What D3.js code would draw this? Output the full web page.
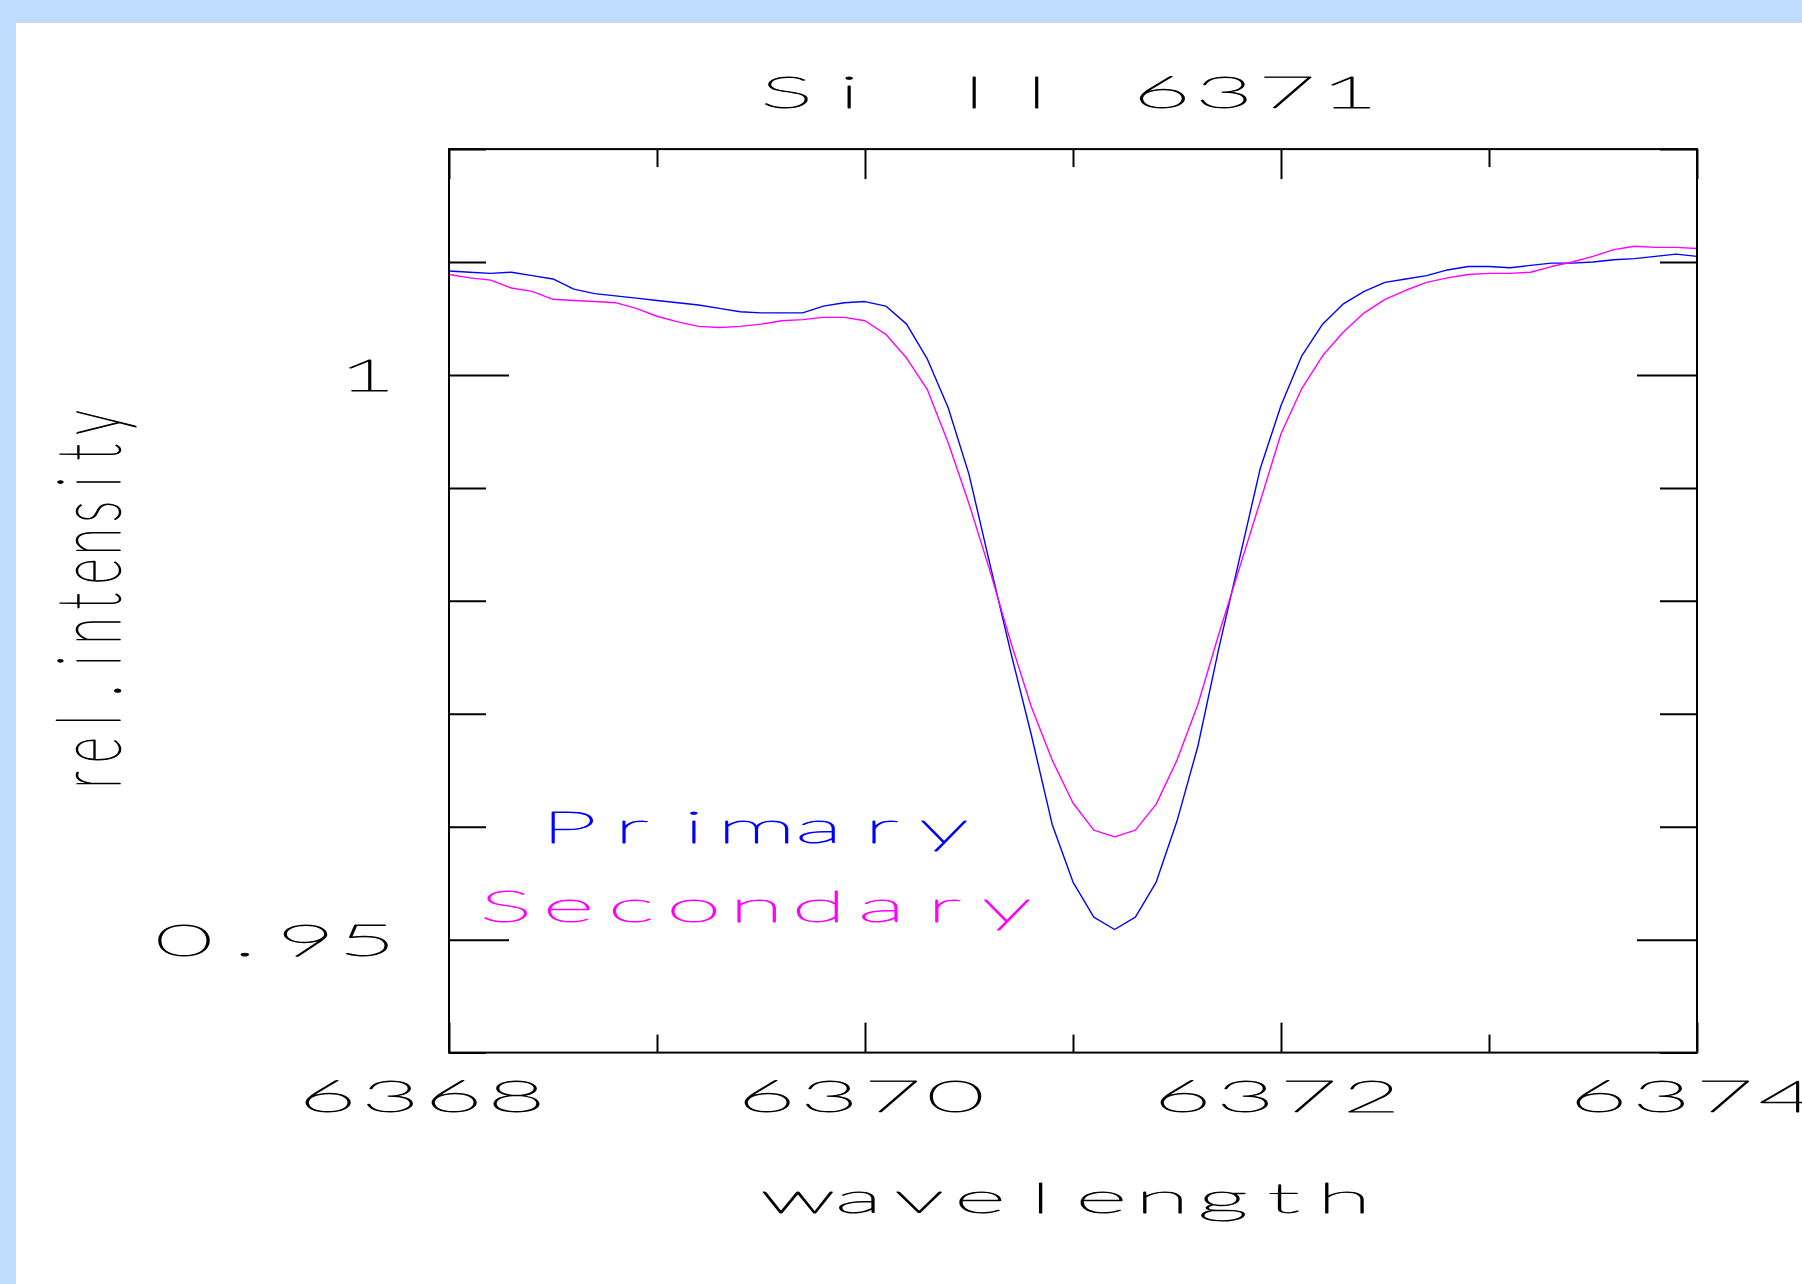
<!DOCTYPE html>
<html>
<head>
<meta charset="utf-8">
<script src="https://cdn.jsdelivr.net/npm/d3@7"></script>
<style>
  html, body { margin: 0; padding: 0; background: #bfdcff; }
  svg { display: block; }
  text { white-space: pre; }
</style>
</head>
<body>
<svg id="chart" width="1802" height="1284"></svg>
<script>
// ---------------- data ----------------
const chartTitle = "Si II 6371";
const xAxisTitle = "wavelength";
const yAxisTitle = "rel.intensity";
const seriesNames = ["Primary", "Secondary"];
const seriesColors = ["#0000ff", "#ff00ff"];

const wavelength = [
  6368.0, 6368.1, 6368.2, 6368.3, 6368.4, 6368.5, 6368.6, 6368.7, 6368.8, 6368.9,
  6369.0, 6369.1, 6369.2, 6369.3, 6369.4, 6369.5, 6369.6, 6369.7, 6369.8, 6369.9,
  6370.0, 6370.1, 6370.2, 6370.3, 6370.4, 6370.5, 6370.6, 6370.7, 6370.8, 6370.9,
  6371.0, 6371.1, 6371.2, 6371.3, 6371.4, 6371.5, 6371.6, 6371.7, 6371.8, 6371.9,
  6372.0, 6372.1, 6372.2, 6372.3, 6372.4, 6372.5, 6372.6, 6372.7, 6372.8, 6372.9,
  6373.0, 6373.1, 6373.2, 6373.3, 6373.4, 6373.5, 6373.6, 6373.7, 6373.8, 6373.9,
  6374.0
];

const primary = [
  1.0092, 1.0091, 1.0090, 1.0091, 1.0088, 1.0085, 1.0076, 1.0072, 1.0070, 1.0068,
  1.0066, 1.0064, 1.0062, 1.0059, 1.0056, 1.0055, 1.0055, 1.0055, 1.0061, 1.0064,
  1.0065, 1.0061, 1.0045, 1.0014, 0.9971, 0.9912, 0.9833, 0.9755, 0.9681, 0.9602,
  0.9551, 0.9520, 0.9509, 0.9520, 0.9551, 0.9605, 0.9671, 0.9757, 0.9837, 0.9917,
  0.9973, 1.0017, 1.0045, 1.0063, 1.0074, 1.0082, 1.0085, 1.0088, 1.0093, 1.0096,
  1.0096, 1.0095, 1.0097, 1.0099, 1.0099, 1.0100, 1.0102, 1.0103, 1.0105, 1.0107,
  1.0105
];

const secondary = [
  1.0089, 1.0086, 1.0084, 1.0077, 1.0074, 1.0067, 1.0066, 1.0065, 1.0064, 1.0059,
  1.0052, 1.0047, 1.0043, 1.0042, 1.0043, 1.0045, 1.0048, 1.0049, 1.0051, 1.0051,
  1.0048, 1.0036, 1.0015, 0.9987, 0.9940, 0.9886, 0.9827, 0.9764, 0.9706, 0.9659,
  0.9621, 0.9597, 0.9591, 0.9597, 0.9620, 0.9659, 0.9708, 0.9770, 0.9829, 0.9888,
  0.9948, 0.9988, 1.0017, 1.0038, 1.0055, 1.0067, 1.0075, 1.0082, 1.0086, 1.0089,
  1.0090, 1.0090, 1.0091, 1.0096, 1.0100, 1.0105, 1.0111, 1.0114, 1.0113, 1.0113,
  1.0112
];

const xDomain = [6368, 6374];
const yDomain = [0.94, 1.02];
const xMajorTicks = [6368, 6370, 6372, 6374];
const xMinorTicks = [6369, 6371, 6373];
const xTickLabels = ["6368", "6370", "6372", "6374"];
const yMajorTicks = [0.95, 1.00];
const yMinorTicks = [0.94, 0.96, 0.97, 0.98, 0.99, 1.01, 1.02];
const yTickLabels = ["0.95", "1"];

// ---------------- layout ----------------
const W = 1802, H = 1284;
const plot = { left: 449, right: 1697, top: 149.1, bottom: 1052.6 };

const svg = d3.select("#chart");
svg.append("rect").attr("x", 0).attr("y", 0).attr("width", W).attr("height", H).attr("fill", "#bfdcff");
svg.append("rect").attr("x", 16).attr("y", 23).attr("width", W - 16).attr("height", H - 23).attr("fill", "#ffffff");

const x = d3.scaleLinear().domain(xDomain).range([plot.left, plot.right]);
const y = d3.scaleLinear().domain(yDomain).range([plot.bottom, plot.top]);

// ---------- plotter-style text helper ----------
const FONT = "Lato, 'Open Sans', 'DejaVu Sans', sans-serif";
const CAP_RATIO = 0.7165;   // Lato cap height / em
const GLYPH_RATIO = 0.46;   // typical glyph width / em
function plotText(parent, str, o) {
  // o: cx0 (centre of first char cell), base (baseline), adv, cap, gw, rot, color
  const F = o.cap / CAP_RATIO;
  const sx = o.gw / (F * GLYPH_RATIO);
  const col = o.color || "#000";
  const g = parent.append("g")
    .attr("transform", `translate(${o.cx0},${o.base}) rotate(${o.rot || 0}) scale(${sx},1)`);
  g.append("text")
    .attr("x", str.split("").map((c, i) => (i * o.adv / sx).toFixed(2)).join(" "))
    .attr("y", 0)
    .attr("text-anchor", "middle")
    .attr("font-family", FONT)
    .attr("font-weight", 100)
    .attr("font-size", F.toFixed(2))
    .attr("fill", col)
    .attr("stroke", col)
    .attr("stroke-width", (o.sw || 0.9).toFixed(2))
    .attr("stroke-linejoin", "round")
    .text(str);
  return g;
}

// ---------------- curves ----------------
const line = d3.line().x(d => x(d[0])).y(d => y(d[1]));
const series = [primary, secondary];
const curves = svg.append("g");
series.forEach((vals, s) => {
  curves.append("path")
    .datum(wavelength.map((w, i) => [w, vals[i]]))
    .attr("d", line)
    .attr("fill", "none")
    .attr("stroke", seriesColors[s])
    .attr("stroke-width", 1.4)
    .attr("stroke-linejoin", "round");
});

// ---------------- frame & ticks ----------------
const axesG = svg.append("g");
function styleAxis(sel) {
  sel.select(".domain").remove();
  sel.selectAll(".tick line").attr("stroke", "#000").attr("stroke-width", 2);
  sel.selectAll(".tick text").remove();
}
// bottom edge (ticks pointing up / inward)
axesG.append("g").attr("transform", `translate(0,${plot.bottom})`)
  .call(d3.axisTop(x).tickValues(xMajorTicks).tickSize(30).tickFormat("")).call(styleAxis);
axesG.append("g").attr("transform", `translate(0,${plot.bottom})`)
  .call(d3.axisTop(x).tickValues(xMinorTicks).tickSize(18).tickFormat("")).call(styleAxis);
// top edge
axesG.append("g").attr("transform", `translate(0,${plot.top})`)
  .call(d3.axisBottom(x).tickValues(xMajorTicks).tickSize(30).tickFormat("")).call(styleAxis);
axesG.append("g").attr("transform", `translate(0,${plot.top})`)
  .call(d3.axisBottom(x).tickValues(xMinorTicks).tickSize(18).tickFormat("")).call(styleAxis);
// left edge
axesG.append("g").attr("transform", `translate(${plot.left},0)`)
  .call(d3.axisRight(y).tickValues(yMajorTicks).tickSize(60).tickFormat("")).call(styleAxis);
axesG.append("g").attr("transform", `translate(${plot.left},0)`)
  .call(d3.axisRight(y).tickValues(yMinorTicks).tickSize(37).tickFormat("")).call(styleAxis);
// right edge
axesG.append("g").attr("transform", `translate(${plot.right},0)`)
  .call(d3.axisLeft(y).tickValues(yMajorTicks).tickSize(60).tickFormat("")).call(styleAxis);
axesG.append("g").attr("transform", `translate(${plot.right},0)`)
  .call(d3.axisLeft(y).tickValues(yMinorTicks).tickSize(37).tickFormat("")).call(styleAxis);

svg.append("rect")
  .attr("x", plot.left).attr("y", plot.top)
  .attr("width", plot.right - plot.left).attr("height", plot.bottom - plot.top)
  .attr("fill", "none").attr("stroke", "#000").attr("stroke-width", 2);

// ---------------- texts ----------------
const CAP = 32, GW = 46, ADV = 62.5;
const plotMid = (plot.left + plot.right) / 2;

// title
plotText(svg, chartTitle, {
  cx0: plotMid - 5 - (chartTitle.length - 1) / 2 * ADV, base: 108, adv: ADV, cap: CAP, gw: GW
});

// x tick labels (the last one runs off the page edge, as in the original)
xTickLabels.forEach((lab, i) => {
  const centre = x(xMajorTicks[i]) + (i === 0 ? -27 : -4);
  plotText(svg, lab, {
    cx0: centre - (lab.length - 1) / 2 * 63, base: plot.bottom + 59, adv: 63, cap: CAP, gw: GW
  });
});

// y tick labels (right aligned cells)
yTickLabels.forEach((lab, i) => {
  const lastCentre = plot.left - 82;
  plotText(svg, lab, {
    cx0: lastCentre - (lab.length - 1) * 61, base: y(yMajorTicks[i]) + 16, adv: 61, cap: CAP, gw: GW
  });
});

// x axis title
plotText(svg, xAxisTitle, {
  cx0: plotMid - 2 - (xAxisTitle.length - 1) / 2 * 60.7, base: 1213, adv: 60.7, cap: 30, gw: GW
});

// y axis title (rotated; stretched across, squeezed along the baseline)
plotText(svg, yAxisTitle, { cx0: 120, base: 780, adv: 29.8, cap: 63, gw: 23, rot: -90, sw: 1.6 });

// legend labels
plotText(svg, seriesNames[0], { cx0: 569, base: 843, adv: 62.5, cap: CAP, gw: GW, color: seriesColors[0] });
plotText(svg, seriesNames[1], { cx0: 506, base: 922, adv: 62.6, cap: CAP, gw: GW, color: seriesColors[1] });
</script>
</body>
</html>
